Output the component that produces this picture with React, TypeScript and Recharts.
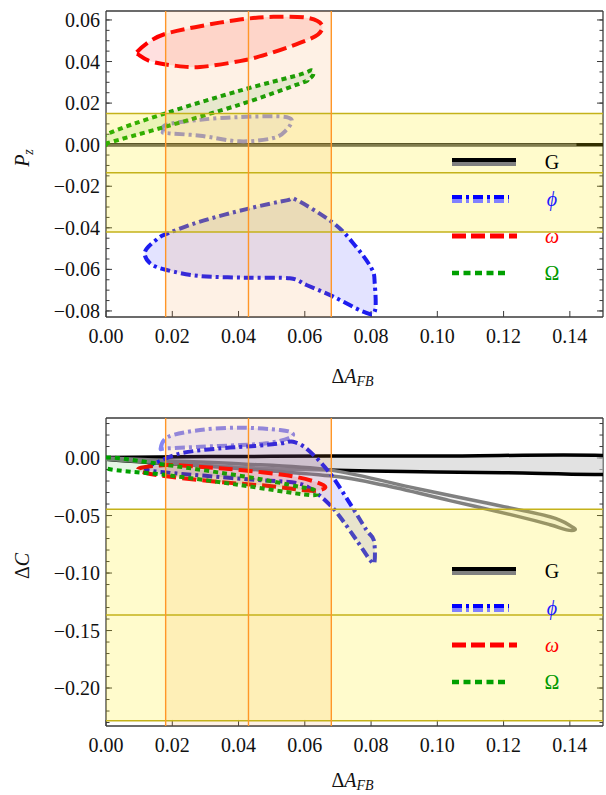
import React from "react";
import {
  ComposedChart,
  Scatter,
  XAxis,
  YAxis,
  ReferenceArea,
  ReferenceLine,
  Legend,
} from "recharts";

const SERIF = '"Liberation Serif", "DejaVu Serif", serif';
const FRAME = "#3a3a3a";
// axes take no layout room; the margins hold the labels
const THIN = 0.01;

type Pt = { x: number; y: number };
const pts = (pairs: number[][]): Pt[] => pairs.map(([x, y]) => ({ x, y }));

// axes
const afbDomain: [number, number] = [0, 0.15];
const afbTicks = [0, 0.02, 0.04, 0.06, 0.08, 0.1, 0.12, 0.14];
const pzDomain: [number, number] = [-0.0829, 0.0643];
const pzTicks = [-0.08, -0.06, -0.04, -0.02, 0, 0.02, 0.04, 0.06];
const dcDomain: [number, number] = [-0.233, 0.0348];
const dcTicks = [-0.2, -0.15, -0.1, -0.05, 0];

const range = (from: number, to: number, by: number) => {
  const out: number[] = [];
  for (let i = 0; from + i * by <= to + 1e-9; i++) out.push(+(from + i * by).toFixed(4));
  return out;
};
const afbMinor = range(0, 0.15, 0.005);
const pzMinor = range(-0.08, 0.06, 0.005);
const dcMinor = range(-0.23, 0.03, 0.01);

// measured windows: [low, central, high]
const afbBand = [0.018, 0.043, 0.068];
const pzBand = [-0.042, -0.0135, 0.015];
const dcBand = [-0.2285, -0.1365, -0.0445];

// P_z vs ΔA_FB contours
const gPzBlack = pts([[0, 0], [0.152, 0]]);
const gPzGray = pts([[0, 0], [0.142, 0]]);
const phiPz = pts([
  [0.0118, -0.0514], [0.0158, -0.045], [0.0188, -0.0426], [0.0284, -0.037],
  [0.0424, -0.031], [0.0545, -0.0268], [0.0575, -0.0266], [0.0686, -0.0377],
  [0.0746, -0.0474], [0.0801, -0.0594], [0.0811, -0.0667], [0.0811, -0.0803],
  [0.0776, -0.0803], [0.0686, -0.0731], [0.0605, -0.0675], [0.0555, -0.0643],
  [0.0424, -0.064], [0.0284, -0.0632], [0.0183, -0.0603], [0.0133, -0.057],
]);
const phiPzLight = pts([
  [0.0173, 0.0064], [0.0183, 0.0096], [0.0284, 0.012], [0.0404, 0.0133],
  [0.0525, 0.0136], [0.056, 0.012], [0.0545, 0.0072], [0.0505, 0.0032],
  [0.0404, 0.0016], [0.0284, 0.0043], [0.0183, 0.0056],
]);
const omegaPz = pts([
  [0.0093, 0.0445], [0.0133, 0.0498], [0.0183, 0.0535], [0.0284, 0.057],
  [0.0404, 0.0602], [0.0505, 0.0615], [0.0605, 0.0611], [0.0651, 0.0578],
  [0.064, 0.053], [0.0585, 0.049], [0.0484, 0.0434], [0.0404, 0.0402],
  [0.0284, 0.0374], [0.0203, 0.0381], [0.0133, 0.0402], [0.0097, 0.0434],
]);
const bigOmegaPz = pts([
  [0, 0], [0, 0.0048], [0.0183, 0.0153], [0.0404, 0.026], [0.0585, 0.0337],
  [0.062, 0.0358], [0.0625, 0.0335], [0.061, 0.0313], [0.0585, 0.0294],
  [0.0404, 0.0193], [0.0183, 0.0088], [0.0005, 0.0008],
]);

// ΔC vs ΔA_FB contours
const gDcBlack = pts([
  [0, 0.0005], [0.05, 0.0015], [0.1, 0.0018], [0.156, 0.0015],
  [0.156, -0.0134], [0.12, -0.0128], [0.09, -0.0118], [0.06, -0.01],
  [0.04, -0.008], [0.02, -0.005], [0, -0.001],
]);
const gDcGray = pts([
  [0, 0], [0.02, -0.0025], [0.04, -0.005], [0.0676, -0.0105], [0.0937, -0.0265],
  [0.1138, -0.0385], [0.134, -0.051], [0.1405, -0.0595], [0.1415, -0.0625],
  [0.139, -0.0625], [0.134, -0.058], [0.124, -0.0505], [0.1038, -0.037],
  [0.0837, -0.0235], [0.0676, -0.0155], [0.04, -0.009], [0.02, -0.005], [0, -0.001],
]);
const phiDc = pts([
  [0.012, -0.01], [0.016, -0.003], [0.0233, 0.0046], [0.035, 0.0085],
  [0.045, 0.0105], [0.053, 0.0128], [0.0565, 0.0142], [0.061, 0.007],
  [0.0676, -0.0133], [0.0736, -0.0394], [0.0786, -0.0626], [0.0808, -0.0713],
  [0.0811, -0.0887], [0.0801, -0.0902], [0.0756, -0.0713], [0.0706, -0.051],
  [0.0676, -0.0409], [0.0636, -0.0307], [0.058, -0.022], [0.045, -0.019],
  [0.03, -0.0155], [0.018, -0.0125],
]);
const phiDcLight = pts([
  [0.0165, 0.0084], [0.0188, 0.0185], [0.0284, 0.0244], [0.0404, 0.0264],
  [0.0525, 0.0244], [0.0563, 0.0215], [0.055, 0.0171], [0.0484, 0.0128],
  [0.0404, 0.0113], [0.0284, 0.0098], [0.0183, 0.0084],
]);
const omegaDc = pts([
  [0.01, -0.009], [0.0183, -0.0061], [0.03, -0.008], [0.0404, -0.0104],
  [0.0545, -0.015], [0.063, -0.0205], [0.0662, -0.0255], [0.062, -0.0285],
  [0.05, -0.0245], [0.035, -0.021], [0.02, -0.0165], [0.012, -0.013],
]);
const bigOmegaDc = pts([
  [0, 0.0005], [0.0183, -0.006], [0.0424, -0.0163], [0.0585, -0.025],
  [0.063, -0.028], [0.0615, -0.0322], [0.0404, -0.0235], [0.0183, -0.0148],
  [0, -0.009],
]);

type LineStyle = {
  stroke: string;
  width: number;
  dash?: string;
  fill: string;
  fillOpacity: number;
  strokeOpacity?: number;
  open?: boolean;
};

const S: Record<string, LineStyle> = {
  gBlack: { stroke: "#000", width: 3.5, fill: "#cfcfcf", fillOpacity: 0.6 },
  gGray: { stroke: "#808080", width: 3.5, fill: "#ececec", fillOpacity: 0.6 },
  gBlackLine: { stroke: "#000", width: 3.5, fill: "none", fillOpacity: 0, open: true },
  gGrayLine: { stroke: "#808080", width: 2.5, fill: "none", fillOpacity: 0, strokeOpacity: 0.75, open: true },
  phi: { stroke: "#1d1df0", width: 4, dash: "10 4 3 4", fill: "#0000ff", fillOpacity: 0.11 },
  phiLight: { stroke: "#8686f2", width: 4, dash: "10 4 3 4", fill: "#8080ff", fillOpacity: 0.1 },
  omega: { stroke: "#ff0000", width: 4, dash: "14 6", fill: "#ff0000", fillOpacity: 0.12 },
  bigOmega: { stroke: "#00a000", width: 4, dash: "5 4", fill: "#00a000", fillOpacity: 0.1 },
};

// closed Catmull-Rom through the projected points
function smoothPath(p: Pt[], open?: boolean) {
  if (open) return p.map((q, i) => `${i ? "L" : "M"}${q.x},${q.y}`).join("");
  const n = p.length;
  let d = `M${p[0].x},${p[0].y}`;
  for (let i = 0; i < n; i++) {
    const p0 = p[(i - 1 + n) % n], p1 = p[i], p2 = p[(i + 1) % n], p3 = p[(i + 2) % n];
    d += `C${p1.x + (p2.x - p0.x) / 6},${p1.y + (p2.y - p0.y) / 6} ` +
      `${p2.x - (p3.x - p1.x) / 6},${p2.y - (p3.y - p1.y) / 6} ${p2.x},${p2.y}`;
  }
  return d + "Z";
}

const contour = (s: LineStyle) => (props: any) => {
  const p: Pt[] = (props.points || []).filter((q: any) => q && q.x != null && q.y != null);
  if (p.length < 2) return <g />;
  return (
    <path
      d={smoothPath(p, s.open)}
      fill={s.fill}
      fillOpacity={s.fillOpacity}
      stroke={s.stroke}
      strokeOpacity={s.strokeOpacity ?? 1}
      strokeWidth={s.width}
      strokeDasharray={s.dash}
      strokeLinejoin="round"
    />
  );
};

const noDot = () => <g />;

const fmt = (v: number) => (v < 0 ? "\u2212" + Math.abs(v).toFixed(2) : v.toFixed(2));

const BottomTick = ({ x, y, payload }: any) => (
  <text x={x} y={y} dy="0.71em" textAnchor="middle" fontSize={20} fontFamily={SERIF} fill="#111">
    {fmt(payload.value)}
  </text>
);
const LeftTick = ({ x, y, payload }: any) => (
  <text x={x} y={y} dy="0.35em" textAnchor="end" fontSize={20} fontFamily={SERIF} fill="#111">
    {fmt(payload.value)}
  </text>
);

const AfbTitle = ({ viewBox, drop }: any) => {
  const vb = viewBox || { x: 106, y: 0, width: 497 };
  return (
    <text x={vb.x + vb.width / 2 - 2} y={vb.y + drop} textAnchor="middle" fontSize={20} fontFamily={SERIF} fill="#111">
      <tspan>Δ</tspan>
      <tspan fontStyle="italic">A</tspan>
      <tspan fontStyle="italic" fontSize={14} dy={3}>FB</tspan>
    </text>
  );
};

const YTitle = ({ viewBox, kind }: any) => {
  const vb = viewBox || { y: 0, height: 300 };
  const cy = vb.y + vb.height / 2 - 6;
  return (
    <text transform={`translate(29,${cy}) rotate(-90)`} textAnchor="middle" fontSize={20} fontFamily={SERIF} fill="#111">
      {kind === "pz" ? (
        <>
          <tspan fontStyle="italic">P</tspan>
          <tspan fontStyle="italic" fontSize={14} dy={4}>z</tspan>
        </>
      ) : (
        <>
          <tspan>Δ</tspan>
          <tspan fontStyle="italic">C</tspan>
        </>
      )}
    </text>
  );
};

const legendRows = [
  { label: "G", color: "#000", italic: false },
  { label: "ϕ", color: "#1a1aff", italic: true },
  { label: "ω", color: "#ff0000", italic: true },
  { label: "Ω", color: "#009900", italic: false },
];

const Sample = ({ i }: { i: number }) => (
  <svg width={66} height={10} style={{ display: "block" }}>
    {i === 0 && (
      <>
        <line x1={0} x2={64} y1={3} y2={3} stroke="#000" strokeWidth={4} />
        <line x1={0} x2={64} y1={7} y2={7} stroke="#808080" strokeWidth={4} />
      </>
    )}
    {i === 1 && (
      <>
        <line x1={0} x2={57} y1={3} y2={3} stroke="#0000ff" strokeWidth={4} strokeDasharray="10 4 3 4" />
        <line x1={0} x2={57} y1={7} y2={7} stroke="#8080ff" strokeWidth={4} strokeDasharray="10 4 3 4" />
      </>
    )}
    {i === 2 && <line x1={0} x2={65} y1={5} y2={5} stroke="#ff0000" strokeWidth={5} strokeDasharray="14 5" />}
    {i === 3 && <line x1={0} x2={55} y1={5} y2={5} stroke="#00a000" strokeWidth={4.5} strokeDasharray="7 4.5" />}
  </svg>
);

const LegendBox = () => (
  <div style={{ position: "relative", width: 130, height: 140, fontFamily: SERIF, fontSize: 20 }}>
    {legendRows.map((r, i) => (
      <div key={r.label} style={{ position: "absolute", left: 0, top: i * 37, height: 20, width: 130 }}>
        <div style={{ position: "absolute", left: 0, top: 5 }}>
          <Sample i={i} />
        </div>
        <div
          style={{
            position: "absolute",
            left: 88,
            width: 24,
            top: -2,
            textAlign: "center",
            color: r.color,
            fontStyle: r.italic ? "italic" : "normal",
            lineHeight: "24px",
          }}
        >
          {r.label}
        </div>
      </div>
    ))}
  </div>
);

type Series = { data: Pt[]; style: LineStyle };

type PanelProps = {
  height: number;
  marginTop: number;
  marginBottom: number;
  yDomain: [number, number];
  yTicks: number[];
  yMinor: number[];
  yBand: number[];
  series: Series[];
  legendTop: number;
  titleDrop: number;
  kind: "pz" | "dc";
};

function Panel({ height, marginTop, marginBottom, yDomain, yTicks, yMinor, yBand, series, legendTop, titleDrop, kind }: PanelProps) {
  const axisLine = { stroke: FRAME, strokeWidth: 1.3 };
  const tickLine = { stroke: FRAME, strokeWidth: 1 };
  return (
    <ComposedChart
      width={606}
      height={height}
      margin={{ top: marginTop, right: 3, bottom: marginBottom, left: 106 }}
      style={{ overflow: "visible" }}
    >
      <XAxis
        type="number"
        dataKey="x"
        domain={afbDomain}
        allowDataOverflow
        ticks={afbTicks}
        interval={0}
        height={THIN}
        tickSize={-6}
        tickMargin={18}
        tick={<BottomTick />}
        axisLine={axisLine}
        tickLine={tickLine}
        label={<AfbTitle drop={titleDrop} />}
      />
      <XAxis xAxisId="bMinor" type="number" domain={afbDomain} allowDataOverflow ticks={afbMinor} interval={0}
        height={THIN} tickSize={-3.5} tick={noDot} axisLine={false} tickLine={tickLine} />
      <XAxis xAxisId="top" orientation="top" type="number" domain={afbDomain} allowDataOverflow ticks={afbTicks}
        interval={0} height={THIN} tickSize={-6} tick={noDot} axisLine={axisLine} tickLine={tickLine} />
      <XAxis xAxisId="tMinor" orientation="top" type="number" domain={afbDomain} allowDataOverflow ticks={afbMinor}
        interval={0} height={THIN} tickSize={-3.5} tick={noDot} axisLine={false} tickLine={tickLine} />
      <YAxis
        type="number"
        dataKey="y"
        domain={yDomain}
        allowDataOverflow
        ticks={yTicks}
        interval={0}
        width={THIN}
        tickSize={-6}
        tickMargin={12}
        tick={<LeftTick />}
        axisLine={axisLine}
        tickLine={tickLine}
        label={<YTitle kind={kind} />}
      />
      <YAxis yAxisId="lMinor" type="number" domain={yDomain} allowDataOverflow ticks={yMinor} interval={0}
        width={THIN} tickSize={-3.5} tick={noDot} axisLine={false} tickLine={tickLine} />
      <YAxis yAxisId="right" orientation="right" type="number" domain={yDomain} allowDataOverflow ticks={yTicks}
        interval={0} width={THIN} tickSize={-6} tick={noDot} axisLine={axisLine} tickLine={tickLine} />
      <YAxis yAxisId="rMinor" orientation="right" type="number" domain={yDomain} allowDataOverflow ticks={yMinor}
        interval={0} width={THIN} tickSize={-3.5} tick={noDot} axisLine={false} tickLine={tickLine} />

      {series.map((s, i) => (
        <Scatter key={i} data={s.data} line={contour(s.style)} shape={noDot} isAnimationActive={false} />
      ))}

      <ReferenceArea x1={afbBand[0]} x2={afbBand[2]} fill="#f5882a" fillOpacity={0.12} stroke="none" zIndex={700} />
      <ReferenceArea y1={yBand[0]} y2={yBand[2]} fill="#ffec00" fillOpacity={0.2} stroke="none" zIndex={700} />
      {yBand.map((v) => (
        <ReferenceLine key={"y" + v} y={v} stroke="#c4b21a" strokeWidth={1.4} zIndex={710} />
      ))}
      {afbBand.map((v) => (
        <ReferenceLine key={"x" + v} x={v} stroke="#ff9628" strokeWidth={1.4} zIndex={710} />
      ))}

      <Legend
        layout="vertical"
        align="center"
        verticalAlign="middle"
        wrapperStyle={{ left: 452, top: legendTop, width: 130, height: 140 }}
        content={() => <LegendBox />}
      />
    </ComposedChart>
  );
}

export default function App() {
  const pzSeries: Series[] = [
    { data: gPzBlack, style: S.gBlackLine },
    { data: gPzGray, style: S.gGrayLine },
    { data: phiPzLight, style: S.phiLight },
    { data: phiPz, style: S.phi },
    { data: omegaPz, style: S.omega },
    { data: bigOmegaPz, style: S.bigOmega },
  ];
  const dcSeries: Series[] = [
    { data: gDcBlack, style: S.gBlack },
    { data: gDcGray, style: S.gGray },
    { data: phiDcLight, style: S.phiLight },
    { data: phiDc, style: S.phi },
    { data: omegaDc, style: S.omega },
    { data: bigOmegaDc, style: S.bigOmega },
  ];
  return (
    <div style={{ position: "absolute", left: 0, top: 0, width: 606, height: 795, background: "#fff" }}>
      <div style={{ position: "absolute", left: 0, top: 0 }}>
        <Panel
          height={400}
          marginTop={11}
          marginBottom={83}
          yDomain={pzDomain}
          yTicks={pzTicks}
          yMinor={pzMinor}
          yBand={pzBand}
          series={pzSeries}
          legendTop={152}
          titleDrop={66}
          kind="pz"
        />
      </div>
      <div style={{ position: "absolute", left: 0, top: 400 }}>
        <Panel
          height={395}
          marginTop={18}
          marginBottom={69}
          yDomain={dcDomain}
          yTicks={dcTicks}
          yMinor={dcMinor}
          yBand={dcBand}
          series={dcSeries}
          legendTop={161}
          titleDrop={61}
          kind="dc"
        />
      </div>
    </div>
  );
}
